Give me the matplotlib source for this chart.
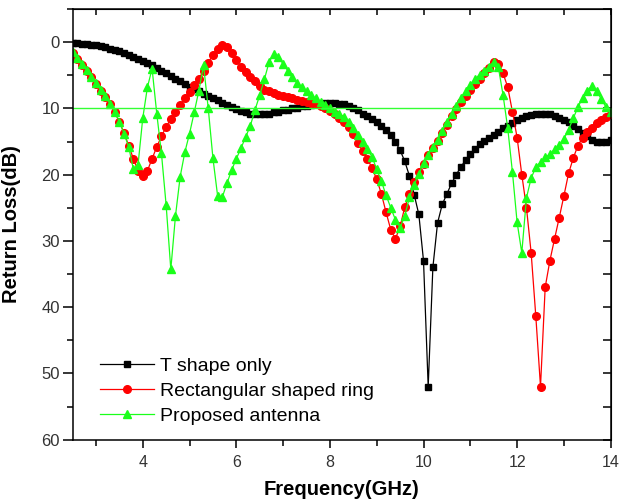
import numpy as np
import matplotlib
matplotlib.use("Agg")
import matplotlib.pyplot as plt
from matplotlib.ticker import MultipleLocator

plt.rcParams['font.family'] = ['Liberation Sans', 'DejaVu Sans']

# frequency grid (GHz), 0.1 GHz steps from 2.5 to 14.0
freq = np.round(np.arange(2.5, 14.05, 0.1), 1)

# return loss (dB)
t_shape = [0.2, 0.2, 0.3, 0.3, 0.4, 0.5, 0.6, 0.8, 1.0, 1.2,
           1.4, 1.6, 1.9, 2.2, 2.5, 2.8, 3.1, 3.5, 3.9, 4.3,
           4.7, 5.1, 5.5, 5.9, 6.3, 6.7, 7.0, 7.4, 7.8, 8.1,
           8.5, 8.8, 9.2, 9.5, 9.8, 10.1, 10.4, 10.6, 10.8, 10.9,
           10.9, 10.9, 10.8, 10.6, 10.5, 10.3, 10.2, 10.0, 9.9, 9.7,
           9.6, 9.5, 9.4, 9.3, 9.2, 9.2, 9.2, 9.3, 9.4, 9.6,
           9.9, 10.3, 10.8, 11.2, 11.6, 12.0, 12.7, 13.3, 14.0, 15.1,
           16.3, 18.0, 20.2, 23.0, 26.0, 33.0, 52.0, 34.0, 27.3, 24.5,
           22.9, 21.3, 20.0, 18.8, 17.8, 16.9, 16.1, 15.4, 14.9, 14.4,
           14.0, 13.5, 13.0, 12.6, 12.2, 11.8, 11.5, 11.2, 11.0, 10.9,
           10.8, 10.8, 10.9, 11.1, 11.4, 11.7, 12.1, 12.6, 13.1, 13.7,
           14.2, 14.7, 15.0, 15.1, 15.0, 14.7]

rect_ring = [1.6, 2.5, 3.4, 4.3, 5.3, 6.3, 7.3, 8.3, 9.4, 10.6,
             12.0, 13.7, 15.6, 17.6, 19.4, 20.2, 19.4, 17.6, 15.8, 14.2,
             12.8, 11.6, 10.5, 9.5, 8.5, 7.5, 6.5, 5.5, 4.3, 3.1,
             1.9, 1.0, 0.5, 0.8, 1.6, 2.7, 3.7, 4.5, 5.2, 5.9,
             6.6, 7.2, 7.4, 7.7, 7.9, 8.1, 8.3, 8.5, 8.7, 8.9,
             9.0, 9.2, 9.4, 9.7, 10.0, 10.4, 10.9, 11.4, 12.0, 12.8,
             13.9, 15.2, 16.4, 17.6, 19.0, 20.7, 22.9, 25.7, 28.3, 29.7,
             27.8, 24.9, 22.9, 21.1, 19.6, 18.4, 17.1, 16.0, 14.9, 13.7,
             12.5, 11.2, 10.1, 9.1, 8.1, 7.2, 6.3, 5.5, 4.7, 3.9,
             3.0, 3.3, 4.7, 6.8, 10.5, 14.4, 20.0, 25.0, 31.8, 41.4,
             52.0, 37.0, 33.0, 29.7, 26.5, 23.2, 19.8, 17.5, 15.6, 14.4,
             13.6, 12.9, 12.2, 11.7, 11.3, 10.9]

proposed = [1.5, 2.4, 3.3, 4.2, 5.2, 6.2, 7.2, 8.2, 9.3, 10.5,
            12.0, 13.8, 15.8, 19.2, 18.5, 11.5, 6.8, 4.0, 10.8, 16.8,
            24.6, 34.3, 26.2, 20.3, 16.6, 13.8, 10.6, 7.3, 3.5, 10.0,
            17.5, 23.2, 23.4, 21.3, 19.3, 17.6, 16.0, 14.3, 12.6, 10.2,
            8.0, 5.6, 3.0, 1.8, 2.2, 3.3, 4.3, 5.3, 6.1, 6.8,
            7.4, 8.0, 8.5, 9.0, 9.5, 10.0, 10.5, 10.9, 11.3, 12.0,
            13.0, 14.0, 15.0, 16.2, 17.3, 19.2, 21.0, 23.1, 25.0, 26.8,
            28.0, 26.2, 23.4, 21.5, 19.9, 18.3, 17.0, 15.8, 14.7, 13.4,
            12.1, 10.8, 9.6, 8.5, 7.4, 6.4, 5.6, 4.9, 4.3, 3.7,
            3.0, 3.8, 8.0, 13.0, 19.6, 27.2, 31.8, 23.5, 20.5, 18.9,
            18.1, 17.4, 16.9, 16.2, 15.5, 14.6, 13.2, 11.5, 9.8, 8.4,
            7.3, 6.6, 7.4, 8.6, 9.8, 10.5]

labels = ["T shape only", "Rectangular shaped ring", "Proposed antenna"]
ref_level = 10

green = '#1aff1a'

fig = plt.figure(figsize=(6.2, 5.03), dpi=100)
ax = fig.add_axes([0.117, 0.126, 0.868, 0.856])

ax.plot(freq, t_shape, color='black', marker='s', markersize=4.5, lw=0.9, label=labels[0])
ax.plot(freq, rect_ring, color='red', marker='o', markersize=5.5, lw=0.9, label=labels[1])
ax.plot(freq, proposed, color=green, marker='^', markersize=6, lw=0.9, label=labels[2])
ax.axhline(ref_level, color='#33ff33', lw=1)

ax.set_xlim(2.5, 14)
ax.set_ylim(60, -5)
ax.xaxis.set_major_locator(MultipleLocator(2))
ax.xaxis.set_minor_locator(MultipleLocator(1))
ax.yaxis.set_major_locator(MultipleLocator(10))
ax.yaxis.set_minor_locator(MultipleLocator(5))
ax.tick_params(axis='x', which='major', direction='out', length=6, width=1.1, pad=5, labelsize=11.5, labelcolor='#333333')
ax.tick_params(axis='x', which='minor', direction='out', length=4, width=1.1)
ax.tick_params(axis='y', which='major', direction='out', length=7, width=1.1, pad=2, labelsize=12, labelcolor='#333333')
ax.tick_params(axis='y', which='minor', direction='out', length=4, width=1.1)
for s in ax.spines.values():
    s.set_linewidth(1.1)

# mirrored ticks on top and right, pointing inwards
top = ax.secondary_xaxis('top')
top.xaxis.set_major_locator(MultipleLocator(1))
top.tick_params(direction='in', length=4, width=1.1, labeltop=False)
right = ax.secondary_yaxis('right')
right.yaxis.set_major_locator(MultipleLocator(5))
right.tick_params(direction='in', length=6, width=1.1, labelright=False)

ax.set_xlabel("Frequency(GHz)", fontsize=14.5, fontweight='bold')
ax.set_ylabel("Return Loss(dB)", fontsize=14.5, fontweight='bold')
ax.xaxis.set_label_coords(0.5, -0.093)
ax.yaxis.set_label_coords(-0.095, 0.5)

ax.legend(loc='lower left', bbox_to_anchor=(0.036, 0.017), borderaxespad=0, frameon=False,
          fontsize=14, handlelength=2.8, handletextpad=0.3, labelspacing=0.37)

fig.savefig("out.png", dpi=100)
